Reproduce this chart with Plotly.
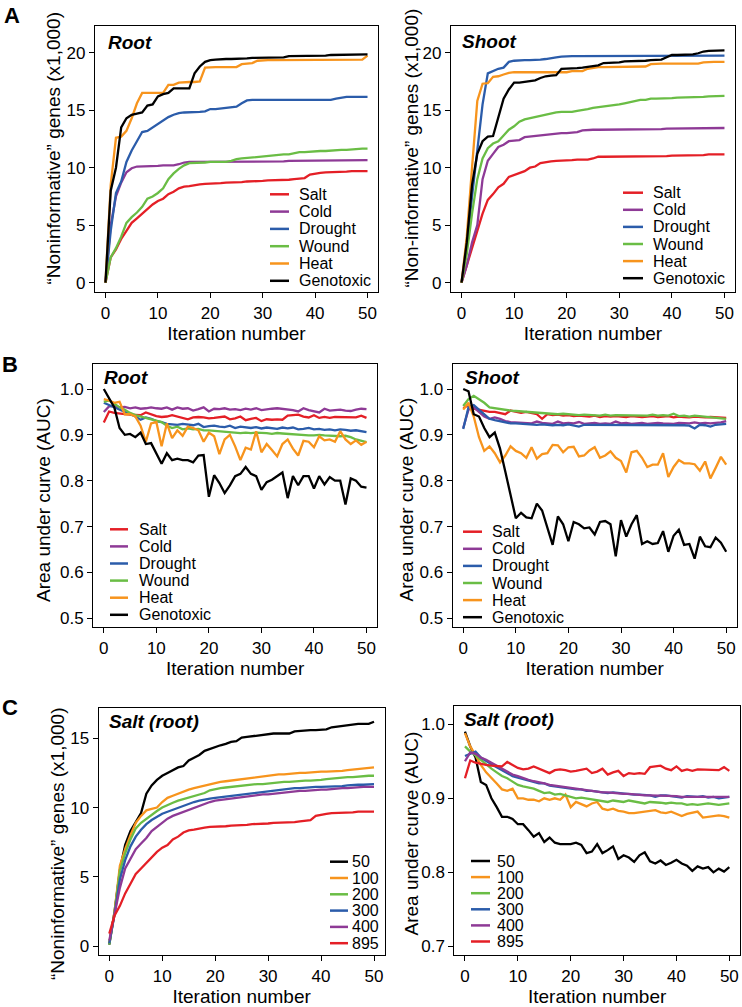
import plotly.graph_objects as go

W, H = 742, 1007
FONT = "Liberation Sans, Arial, Helvetica, sans-serif"

iterations = list(range(51))

stress_names = ["Salt", "Cold", "Drought", "Wound", "Heat", "Genotoxic"]
size_names = ["50", "100", "200", "300", "400", "895"]
stress_colors = ["#E41F26", "#8E3A96", "#2B5CAA", "#6ABD45", "#F7941D", "#000000"]
size_colors = ["#000000", "#F7941D", "#6ABD45", "#2B5CAA", "#8E3A96", "#E41F26"]

# ---------------- Panel A: root, non-informative genes (x1,000) ----------------
root_genes_salt = [0.0, 2.2, 2.9, 3.8, 4.5, 5.2, 5.6, 6.0, 6.4, 6.8,
                   7.1, 7.3, 7.7, 7.9, 8.2, 8.35, 8.4, 8.5, 8.55, 8.6,
                   8.6, 8.6, 8.65, 8.7, 8.7, 8.75, 8.75, 8.8, 8.8, 8.85,
                   8.85, 8.9, 8.9, 8.9, 8.95, 8.95, 9.0, 9.05, 9.1, 9.4,
                   9.5, 9.55, 9.6, 9.6, 9.65, 9.65, 9.65, 9.7, 9.7, 9.7,
                   9.7]
root_genes_cold = [0.0, 5.0, 7.5, 8.7, 9.6, 9.95, 10.1, 10.1, 10.15, 10.15,
                   10.15, 10.2, 10.2, 10.2, 10.3, 10.45, 10.5, 10.5, 10.5, 10.5,
                   10.5, 10.5, 10.5, 10.5, 10.5, 10.5, 10.5, 10.5, 10.5, 10.5,
                   10.5, 10.5, 10.55, 10.55, 10.55, 10.6, 10.6, 10.6, 10.6, 10.6,
                   10.6, 10.6, 10.6, 10.6, 10.6, 10.65, 10.65, 10.65, 10.65, 10.65,
                   10.65]
root_genes_drought = [0.0, 4.5, 7.8, 8.8, 10.5, 11.5, 12.3, 13.1, 13.2, 13.5,
                      13.8, 14.1, 14.4, 14.6, 14.75, 14.8, 14.8, 14.8, 14.85, 14.9,
                      15.1, 15.1, 15.15, 15.2, 15.25, 15.3, 15.6, 15.85, 15.9, 15.9,
                      15.9, 15.9, 15.9, 15.9, 15.9, 15.9, 15.9, 15.9, 15.9, 15.9,
                      15.9, 15.9, 15.9, 15.9, 16.0, 16.1, 16.15, 16.15, 16.15, 16.15,
                      16.15]
root_genes_wound = [0.0, 2.2, 3.0, 4.0, 5.2, 5.7, 6.1, 6.6, 7.3, 7.5,
                    7.8, 8.2, 9.0, 9.5, 9.9, 10.2, 10.4, 10.4, 10.45, 10.45,
                    10.5, 10.5, 10.5, 10.5, 10.6, 10.75, 10.8, 10.85, 10.85, 10.95,
                    11.0, 11.0, 11.05, 11.1, 11.15, 11.15, 11.25, 11.35, 11.35, 11.4,
                    11.4, 11.45, 11.45, 11.5, 11.55, 11.55, 11.55, 11.6, 11.6, 11.65,
                    11.65]
root_genes_heat = [0.0, 8.5, 12.6, 12.7, 13.2, 14.3, 15.6, 16.5, 16.5, 16.5,
                   16.5, 16.5, 17.2, 17.2, 17.4, 17.45, 17.45, 17.45, 17.5, 18.7,
                   18.75, 18.75, 18.75, 18.75, 18.75, 18.75, 19.0, 19.05, 19.1, 19.3,
                   19.35, 19.35, 19.35, 19.35, 19.35, 19.35, 19.35, 19.35, 19.35, 19.35,
                   19.35, 19.35, 19.35, 19.35, 19.35, 19.35, 19.35, 19.35, 19.35, 19.4,
                   19.75]
root_genes_genotoxic = [0.0, 8.0, 10.0, 13.5, 14.3, 14.6, 14.7, 14.8, 15.4, 15.5,
                        16.2, 16.4, 16.5, 16.9, 16.9, 16.9, 16.9, 18.2, 18.8, 19.2,
                        19.35, 19.4, 19.45, 19.45, 19.45, 19.45, 19.5, 19.5, 19.55, 19.55,
                        19.55, 19.55, 19.55, 19.55, 19.6, 19.7, 19.7, 19.7, 19.75, 19.75,
                        19.75, 19.75, 19.75, 19.8, 19.8, 19.8, 19.8, 19.8, 19.8, 19.85,
                        19.85]

# ---------------- Panel A: shoot ----------------
shoot_genes_salt = [0.0, 1.5, 3.0, 4.5, 6.0, 7.2, 7.7, 8.3, 8.6, 9.2,
                    9.35, 9.5, 9.7, 10.0, 10.1, 10.4, 10.5, 10.55, 10.6, 10.6,
                    10.65, 10.65, 10.7, 10.7, 10.7, 10.8, 10.95, 10.95, 10.95, 10.95,
                    10.95, 10.95, 10.95, 11.0, 11.0, 11.0, 11.0, 11.0, 11.0, 11.0,
                    11.05, 11.05, 11.05, 11.1, 11.1, 11.1, 11.1, 11.15, 11.15, 11.15,
                    11.15]
shoot_genes_cold = [0.0, 1.5, 3.5, 5.0, 9.0, 10.6, 11.2, 11.8, 12.0, 12.3,
                    12.35, 12.4, 12.65, 12.7, 12.75, 12.85, 12.9, 12.95, 13.0, 13.0,
                    13.0, 13.05, 13.1, 13.25, 13.3, 13.3, 13.3, 13.3, 13.3, 13.3,
                    13.3, 13.3, 13.3, 13.35, 13.35, 13.35, 13.35, 13.35, 13.35, 13.4,
                    13.4, 13.4, 13.4, 13.4, 13.4, 13.45, 13.45, 13.45, 13.45, 13.45,
                    13.45]
shoot_genes_drought = [0.0, 3.0, 7.5, 11.5, 15.5, 18.2, 18.4, 18.6, 18.7, 19.2,
                       19.3, 19.35, 19.35, 19.35, 19.35, 19.4, 19.45, 19.55, 19.6, 19.65,
                       19.7, 19.7, 19.7, 19.7, 19.7, 19.7, 19.7, 19.7, 19.7, 19.7,
                       19.7, 19.7, 19.7, 19.7, 19.7, 19.7, 19.7, 19.7, 19.7, 19.75,
                       19.75, 19.75, 19.75, 19.75, 19.75, 19.75, 19.75, 19.75, 19.75, 19.75,
                       19.75]
shoot_genes_wound = [0.0, 2.5, 6.0, 9.0, 10.8, 11.7, 12.1, 12.3, 12.8, 13.3,
                     13.6, 14.0, 14.2, 14.3, 14.4, 14.55, 14.65, 14.7, 14.8, 14.85,
                     14.85, 14.85, 14.95, 15.0, 15.1, 15.2, 15.25, 15.35, 15.4, 15.4,
                     15.5, 15.6, 15.7, 15.8, 15.9, 15.9, 16.0, 16.0, 16.0, 16.05,
                     16.05, 16.1, 16.1, 16.1, 16.15, 16.15, 16.15, 16.2, 16.2, 16.2,
                     16.25]
shoot_genes_heat = [0.0, 4.0, 10.0, 15.8, 17.3, 17.35, 17.9, 17.95, 18.1, 18.25,
                    18.3, 18.3, 18.3, 18.3, 18.3, 18.3, 18.3, 18.3, 18.3, 18.3,
                    18.3, 18.4, 18.4, 18.4, 18.6, 18.7, 18.75, 18.75, 18.75, 18.75,
                    18.75, 18.75, 18.75, 18.75, 18.75, 18.8, 19.0, 19.05, 19.05, 19.05,
                    19.05, 19.05, 19.05, 19.05, 19.05, 19.05, 19.15, 19.2, 19.2, 19.2,
                    19.2]
shoot_genes_genotoxic = [0.0, 3.5, 8.5, 11.2, 12.3, 12.7, 12.75, 14.5, 16.0, 16.8,
                         17.4, 17.4, 17.45, 17.5, 17.6, 17.8, 17.95, 18.0, 18.05, 18.6,
                         18.6, 18.65, 18.65, 18.7, 18.75, 18.85, 18.9, 19.1, 19.1, 19.1,
                         19.15, 19.25, 19.25, 19.3, 19.3, 19.3, 19.35, 19.35, 19.4, 19.6,
                         19.8, 19.8, 19.8, 19.85, 19.85, 19.95, 20.1, 20.15, 20.15, 20.2,
                         20.2]

# ---------------- Panel B: root AUC ----------------
root_auc_salt = [0.927, 0.951, 0.948, 0.946, 0.945, 0.944, 0.944, 0.943, 0.949, 0.945,
                 0.941, 0.939, 0.940, 0.943, 0.940, 0.938, 0.934, 0.938, 0.939, 0.938,
                 0.936, 0.937, 0.939, 0.940, 0.934, 0.936, 0.940, 0.932, 0.935, 0.937,
                 0.930, 0.934, 0.933, 0.934, 0.933, 0.942, 0.943, 0.944, 0.940, 0.938,
                 0.943, 0.937, 0.939, 0.937, 0.939, 0.939, 0.938, 0.938, 0.938, 0.942,
                 0.937]
root_auc_cold = [0.950, 0.962, 0.963, 0.960, 0.961, 0.958, 0.960, 0.957, 0.958, 0.960,
                 0.958, 0.957, 0.960, 0.955, 0.960, 0.957, 0.958, 0.953, 0.956, 0.960,
                 0.951, 0.957, 0.956, 0.958, 0.955, 0.956, 0.954, 0.957, 0.955, 0.958,
                 0.954, 0.956, 0.957, 0.958, 0.957, 0.955, 0.954, 0.951, 0.958, 0.954,
                 0.951, 0.949, 0.957, 0.953, 0.954, 0.955, 0.953, 0.952, 0.955, 0.957,
                 0.956]
root_auc_drought = [0.970, 0.965, 0.960, 0.955, 0.950, 0.945, 0.940, 0.933, 0.938, 0.935,
                    0.930, 0.928, 0.924, 0.923, 0.922, 0.924, 0.922, 0.921, 0.924, 0.917,
                    0.919, 0.920, 0.918, 0.917, 0.920, 0.915, 0.918, 0.916, 0.915, 0.917,
                    0.914, 0.916, 0.915, 0.913, 0.916, 0.914, 0.916, 0.912, 0.913, 0.915,
                    0.912, 0.913, 0.911, 0.912, 0.910, 0.912, 0.911, 0.909, 0.910, 0.908,
                    0.906]
root_auc_wound = [0.972, 0.975, 0.968, 0.960, 0.955, 0.948, 0.943, 0.940, 0.937, 0.934,
                  0.930, 0.928, 0.920, 0.915, 0.918, 0.912, 0.914, 0.912, 0.913, 0.910,
                  0.910, 0.909, 0.908, 0.907, 0.906, 0.905, 0.904, 0.905, 0.904, 0.905,
                  0.905, 0.904, 0.902, 0.904, 0.903, 0.902, 0.901, 0.901, 0.900, 0.899,
                  0.899, 0.900, 0.899, 0.898, 0.898, 0.897, 0.898, 0.895, 0.890, 0.887,
                  0.884]
root_auc_heat = [0.978, 0.975, 0.970, 0.972, 0.945, 0.945, 0.940, 0.920, 0.885, 0.925,
                 0.928, 0.875, 0.925, 0.893, 0.910, 0.898, 0.918, 0.915, 0.910, 0.885,
                 0.905, 0.897, 0.858, 0.890, 0.900, 0.875, 0.845, 0.872, 0.868, 0.908,
                 0.862, 0.880, 0.867, 0.853, 0.880, 0.890, 0.870, 0.855, 0.887, 0.885,
                 0.873, 0.897, 0.888, 0.890, 0.885, 0.908, 0.890, 0.880, 0.888, 0.878,
                 0.885]
root_auc_genotoxic = [1.000, 0.980, 0.960, 0.915, 0.900, 0.902, 0.895, 0.905, 0.880, 0.882,
                      0.860, 0.837, 0.860, 0.845, 0.848, 0.845, 0.845, 0.840, 0.855, 0.856,
                      0.765, 0.812, 0.795, 0.773, 0.790, 0.810, 0.815, 0.830, 0.815, 0.810,
                      0.780, 0.797, 0.802, 0.810, 0.818, 0.762, 0.810, 0.790, 0.810, 0.810,
                      0.783, 0.810, 0.792, 0.808, 0.800, 0.800, 0.748, 0.805, 0.800, 0.787,
                      0.785]

# ---------------- Panel B: shoot AUC ----------------
shoot_auc_salt = [0.958, 0.965, 0.957, 0.955, 0.952, 0.950, 0.950, 0.948, 0.945, 0.953,
                  0.950, 0.948, 0.950, 0.947, 0.945, 0.935, 0.945, 0.943, 0.944, 0.942,
                  0.943, 0.941, 0.942, 0.941, 0.940, 0.942, 0.939, 0.941, 0.940, 0.941,
                  0.940, 0.939, 0.941, 0.940, 0.939, 0.940, 0.941, 0.939, 0.940, 0.941,
                  0.938, 0.940, 0.939, 0.938, 0.940, 0.939, 0.938, 0.939, 0.938, 0.938,
                  0.937]
shoot_auc_cold = [0.915, 0.955, 0.960, 0.950, 0.940, 0.935, 0.938, 0.935, 0.930, 0.928,
                  0.927, 0.926, 0.925, 0.925, 0.929, 0.926, 0.925, 0.924, 0.929, 0.925,
                  0.926, 0.925, 0.928, 0.924, 0.925, 0.926, 0.924, 0.925, 0.924, 0.929,
                  0.925, 0.926, 0.924, 0.925, 0.926, 0.924, 0.925, 0.926, 0.925, 0.925,
                  0.924, 0.926, 0.925, 0.925, 0.927, 0.925, 0.926, 0.925, 0.926, 0.927,
                  0.930]
shoot_auc_drought = [0.913, 0.960, 0.965, 0.955, 0.945, 0.935, 0.932, 0.930, 0.928, 0.925,
                     0.925, 0.924, 0.924, 0.923, 0.922, 0.923, 0.922, 0.921, 0.922, 0.921,
                     0.923, 0.921, 0.918, 0.922, 0.922, 0.921, 0.921, 0.922, 0.921, 0.922,
                     0.921, 0.922, 0.921, 0.921, 0.922, 0.921, 0.922, 0.921, 0.922, 0.921,
                     0.921, 0.922, 0.921, 0.920, 0.914, 0.922, 0.921, 0.918, 0.922, 0.923,
                     0.924]
shoot_auc_wound = [0.963, 0.978, 0.985, 0.978, 0.970, 0.960, 0.958, 0.957, 0.955, 0.953,
                   0.952, 0.951, 0.950, 0.950, 0.949, 0.948, 0.947, 0.946, 0.945, 0.946,
                   0.945, 0.944, 0.943, 0.944, 0.943, 0.943, 0.942, 0.944, 0.942, 0.943,
                   0.943, 0.942, 0.943, 0.942, 0.943, 0.942, 0.944, 0.942, 0.943, 0.942,
                   0.946, 0.941, 0.942, 0.940, 0.942, 0.941, 0.940, 0.939, 0.938, 0.936,
                   0.935]
shoot_auc_heat = [0.955, 0.970, 0.940, 0.895, 0.865, 0.875, 0.860, 0.840, 0.855, 0.875,
                  0.865, 0.860, 0.850, 0.873, 0.848, 0.858, 0.860, 0.878, 0.877, 0.862,
                  0.873, 0.874, 0.853, 0.855, 0.866, 0.873, 0.850, 0.855, 0.864, 0.850,
                  0.843, 0.818, 0.862, 0.865, 0.850, 0.830, 0.835, 0.835, 0.860, 0.808,
                  0.830, 0.845, 0.838, 0.838, 0.836, 0.822, 0.842, 0.805, 0.828, 0.852,
                  0.835]
shoot_auc_genotoxic = [1.000, 0.995, 0.945, 0.940, 0.915, 0.895, 0.905, 0.870, 0.820, 0.765,
                       0.718, 0.730, 0.720, 0.718, 0.750, 0.735, 0.700, 0.660, 0.722, 0.705,
                       0.668, 0.710, 0.705, 0.696, 0.698, 0.683, 0.710, 0.712, 0.705, 0.635,
                       0.714, 0.678, 0.705, 0.725, 0.662, 0.668, 0.662, 0.664, 0.690, 0.645,
                       0.680, 0.693, 0.660, 0.662, 0.630, 0.678, 0.657, 0.655, 0.676, 0.665,
                       0.645]

# ---------------- Panel C: salt (root), genes by sample size ----------------
salt_genes_50 = [0.1, 2.5, 5.5, 7.3, 8.3, 9.0, 9.6, 11.0, 11.6, 12.0,
                 12.3, 12.5, 12.7, 12.9, 13.0, 13.4, 13.6, 13.8, 14.1, 14.25,
                 14.35, 14.5, 14.6, 14.75, 14.8, 15.05, 15.1, 15.15, 15.2, 15.3,
                 15.3, 15.35, 15.35, 15.35, 15.35, 15.5, 15.55, 15.6, 15.6, 15.6,
                 15.6, 15.65, 15.8, 15.85, 15.9, 15.95, 16.05, 16.05, 16.05, 16.05,
                 16.2]
salt_genes_100 = [0.2, 2.5, 5.8, 7.0, 8.0, 8.9, 9.4, 9.8, 9.9, 10.0,
                  10.4, 10.7, 10.85, 11.0, 11.2, 11.3, 11.4, 11.5, 11.6, 11.65,
                  11.75, 11.85, 11.9, 11.95, 12.0, 12.05, 12.15, 12.2, 12.25, 12.3,
                  12.35, 12.35, 12.4, 12.4, 12.45, 12.5, 12.5, 12.5, 12.55, 12.55,
                  12.6, 12.6, 12.6, 12.65, 12.65, 12.7, 12.75, 12.8, 12.85, 12.85,
                  12.9]
salt_genes_200 = [0.1, 2.4, 5.4, 6.7, 7.7, 8.5, 8.9, 9.2, 9.5, 9.75,
                  10.0, 10.2, 10.35, 10.5, 10.6, 10.75, 10.85, 10.95, 11.05, 11.25,
                  11.35, 11.4, 11.45, 11.5, 11.55, 11.6, 11.65, 11.65, 11.7, 11.7,
                  11.75, 11.8, 11.8, 11.85, 11.85, 11.9, 11.9, 11.95, 11.95, 11.95,
                  12.0, 12.05, 12.1, 12.15, 12.15, 12.2, 12.2, 12.25, 12.25, 12.3,
                  12.3]
salt_genes_300 = [0.2, 2.3, 4.8, 6.2, 7.2, 7.9, 8.4, 8.8, 9.1, 9.35,
                  9.55, 9.7, 9.85, 10.0, 10.15, 10.3, 10.4, 10.5, 10.6, 10.65,
                  10.7, 10.75, 10.8, 10.85, 10.9, 10.95, 11.0, 11.05, 11.1, 11.15,
                  11.2, 11.25, 11.3, 11.35, 11.4, 11.4, 11.4, 11.45, 11.45, 11.5,
                  11.5, 11.5, 11.5, 11.55, 11.55, 11.6, 11.65, 11.65, 11.65, 11.7,
                  11.7]
salt_genes_400 = [0.4, 2.2, 4.2, 5.6, 6.3, 7.0, 7.4, 7.8, 8.3, 8.6,
                  8.9, 9.2, 9.4, 9.55, 9.7, 9.85, 10.0, 10.15, 10.3, 10.4,
                  10.5, 10.55, 10.6, 10.7, 10.75, 10.8, 10.85, 10.85, 10.9, 10.95,
                  10.95, 11.0, 11.05, 11.1, 11.1, 11.15, 11.2, 11.2, 11.25, 11.25,
                  11.3, 11.3, 11.35, 11.35, 11.4, 11.4, 11.45, 11.45, 11.5, 11.5,
                  11.5]
salt_genes_895 = [0.9, 2.2, 2.9, 3.8, 4.5, 5.2, 5.6, 6.0, 6.4, 6.8,
                  7.1, 7.3, 7.7, 7.9, 8.2, 8.35, 8.4, 8.5, 8.55, 8.6,
                  8.6, 8.6, 8.65, 8.7, 8.7, 8.75, 8.75, 8.8, 8.8, 8.85,
                  8.85, 8.9, 8.9, 8.9, 8.95, 8.95, 9.0, 9.05, 9.1, 9.4,
                  9.5, 9.55, 9.6, 9.6, 9.65, 9.65, 9.65, 9.7, 9.7, 9.7,
                  9.7]

# ---------------- Panel C: salt (root), AUC by sample size ----------------
salt_auc_50 = [0.990, 0.970, 0.955, 0.922, 0.918, 0.900, 0.888, 0.875, 0.875, 0.872,
               0.865, 0.865, 0.857, 0.848, 0.853, 0.841, 0.847, 0.840, 0.838, 0.838,
               0.838, 0.840, 0.837, 0.826, 0.828, 0.838, 0.826, 0.830, 0.835, 0.818,
               0.823, 0.820, 0.814, 0.823, 0.827, 0.815, 0.812, 0.816, 0.810, 0.813,
               0.817, 0.812, 0.809, 0.802, 0.808, 0.805, 0.807, 0.800, 0.805, 0.801,
               0.807]
salt_auc_100 = [0.988, 0.970, 0.958, 0.945, 0.935, 0.928, 0.920, 0.912, 0.910, 0.913,
                0.900, 0.900, 0.898, 0.898, 0.896, 0.900, 0.898, 0.900, 0.898, 0.905,
                0.888, 0.895, 0.892, 0.889, 0.893, 0.895, 0.886, 0.884, 0.886, 0.883,
                0.882, 0.880, 0.880, 0.881, 0.881, 0.882, 0.884, 0.881, 0.880, 0.882,
                0.879, 0.876, 0.879, 0.881, 0.882, 0.874, 0.875, 0.876, 0.877, 0.876,
                0.874]
salt_auc_200 = [0.970, 0.963, 0.958, 0.952, 0.945, 0.940, 0.935, 0.930, 0.927, 0.922,
                0.918, 0.916, 0.915, 0.913, 0.910, 0.907, 0.908, 0.905, 0.906, 0.904,
                0.902, 0.900, 0.901, 0.900, 0.899, 0.898, 0.897, 0.895, 0.897, 0.896,
                0.895, 0.897, 0.896, 0.895, 0.893, 0.895, 0.895, 0.894, 0.893, 0.894,
                0.893, 0.893, 0.891, 0.892, 0.891, 0.892, 0.893, 0.892, 0.891, 0.892,
                0.893]
salt_auc_300 = [0.957, 0.960, 0.963, 0.955, 0.950, 0.946, 0.942, 0.938, 0.934, 0.930,
                0.928, 0.926, 0.925, 0.922, 0.920, 0.920, 0.917, 0.916, 0.915, 0.913,
                0.913, 0.912, 0.912, 0.910, 0.910, 0.909, 0.908, 0.907, 0.908, 0.907,
                0.906, 0.906, 0.905, 0.905, 0.905, 0.904, 0.902, 0.904, 0.904, 0.903,
                0.903, 0.901, 0.903, 0.902, 0.902, 0.903, 0.901, 0.902, 0.900, 0.901,
                0.902]
salt_auc_400 = [0.950, 0.962, 0.960, 0.955, 0.952, 0.948, 0.944, 0.940, 0.935, 0.932,
                0.930, 0.927, 0.925, 0.923, 0.922, 0.920, 0.918, 0.917, 0.916, 0.914,
                0.913, 0.912, 0.911, 0.910, 0.910, 0.909, 0.908, 0.908, 0.907, 0.907,
                0.906, 0.906, 0.905, 0.905, 0.904, 0.904, 0.904, 0.903, 0.903, 0.903,
                0.903, 0.902, 0.902, 0.902, 0.902, 0.902, 0.902, 0.901, 0.902, 0.902,
                0.902]
salt_auc_895 = [0.927, 0.951, 0.948, 0.946, 0.945, 0.944, 0.944, 0.943, 0.949, 0.945,
                0.941, 0.939, 0.940, 0.943, 0.940, 0.938, 0.934, 0.938, 0.939, 0.938,
                0.936, 0.937, 0.939, 0.940, 0.934, 0.936, 0.940, 0.932, 0.935, 0.937,
                0.930, 0.934, 0.933, 0.934, 0.933, 0.942, 0.943, 0.944, 0.940, 0.938,
                0.943, 0.937, 0.939, 0.937, 0.939, 0.939, 0.938, 0.938, 0.938, 0.942,
                0.937]

x_ticks = [0, 10, 20, 30, 40, 50]
genes_ticks = [0, 5, 10, 15, 20]
auc_ticks_b = [0.5, 0.6, 0.7, 0.8, 0.9, 1.0]
genes_ticks_c = [0, 5, 10, 15]
auc_ticks_c = [0.7, 0.8, 0.9, 1.0]


def px_x(p):
    return p / W


def px_y(p):
    return 1 - p / H


panels = [
    dict(series=[root_genes_salt, root_genes_cold, root_genes_drought, root_genes_wound,
                 root_genes_heat, root_genes_genotoxic],
         names=stress_names, colors=stress_colors, box=[95, 26, 378, 292],
         yrange=[-0.81, 22.32], yticks=genes_ticks, fmt="d",
         ytitle="“Noninformative” genes (x1,000)", ytpos=(53, 148.5), xstand=2,
         title="Root", tpos=(106, 42), leg=(270, 289, 297, 194.3, 17.3)),
    dict(series=[shoot_genes_salt, shoot_genes_cold, shoot_genes_drought, shoot_genes_wound,
                 shoot_genes_heat, shoot_genes_genotoxic],
         names=stress_names, colors=stress_colors, box=[451, 26, 735, 292],
         yrange=[-0.81, 22.32], yticks=genes_ticks, fmt="d",
         ytitle="“Non-informative” genes (x1,000)", ytpos=(411, 148.5), xstand=2,
         title="Shoot", tpos=(460, 41), leg=(623, 643, 651, 192.7, 17.1)),
    dict(series=[root_auc_salt, root_auc_cold, root_auc_drought, root_auc_wound,
                 root_auc_heat, root_auc_genotoxic],
         names=stress_names, colors=stress_colors, box=[93.3, 364.3, 377, 627.3],
         yrange=[0.4803, 1.0539], yticks=auc_ticks_b, fmt=".1f",
         ytitle="Area under curve (AUC)", ytpos=(44, 500), xstand=0,
         title="Root", tpos=(102, 377), leg=(110, 128, 137, 529.3, 17.1)),
    dict(series=[shoot_auc_salt, shoot_auc_cold, shoot_auc_drought, shoot_auc_wound,
                 shoot_auc_heat, shoot_auc_genotoxic],
         names=stress_names, colors=stress_colors, box=[452.7, 364.3, 736.7, 627.3],
         yrange=[0.4803, 1.0539], yticks=auc_ticks_b, fmt=".1f",
         ytitle="Area under curve (AUC)", ytpos=(406, 499.5), xstand=0,
         title="Shoot", tpos=(463, 377), leg=(463, 482, 490, 531.7, 17.1)),
    dict(series=[salt_genes_50, salt_genes_100, salt_genes_200, salt_genes_300,
                 salt_genes_400, salt_genes_895],
         names=size_names, colors=size_colors, box=[98.7, 708.3, 384.6, 955.3],
         yrange=[-0.67, 17.17], yticks=genes_ticks_c, fmt="d",
         ytitle="“Noninformative” genes (x1,000)", ytpos=(57, 844), xstand=5,
         title="Salt (root)", tpos=(107, 721), leg=(330, 348, 350, 861.7, 16.3)),
    dict(series=[salt_auc_50, salt_auc_100, salt_auc_200, salt_auc_300,
                 salt_auc_400, salt_auc_895],
         names=size_names, colors=size_colors, box=[454.4, 705.7, 739.9, 955.3],
         yrange=[0.688, 1.025], yticks=auc_ticks_c, fmt=".1f",
         ytitle="Area under curve (AUC)", ytpos=(411, 833.5), xstand=5,
         title="Salt (root)", tpos=(462, 719), leg=(471, 490, 495, 861, 16.1)),
]

fig = go.Figure()
shapes = []
annotations = []
axis_common = dict(
    showline=True, mirror=True, linecolor="black", linewidth=1.3,
    ticks="outside", ticklen=5, tickwidth=1.3, tickcolor="black",
    showgrid=False, zeroline=False, automargin=False,
    tickfont=dict(family=FONT, size=17, color="black"),
    title_font=dict(family=FONT, size=19, color="black"),
)

for i, p in enumerate(panels):
    n = "" if i == 0 else str(i + 1)
    xa, ya = "x" + n, "y" + n
    l, t, r, b = p["box"]
    for vals, name, col in zip(p["series"], p["names"], p["colors"]):
        fig.add_trace(go.Scatter(x=iterations, y=vals, mode="lines", name=name,
                                 line=dict(color=col, width=2.3), xaxis=xa, yaxis=ya,
                                 showlegend=False))
    fig.update_layout({
        "xaxis" + n: dict(axis_common, domain=[px_x(l), px_x(r)], range=[-2, 52],
                          tickvals=x_ticks, anchor=ya,
                          title=dict(text="Iteration number", standoff=p["xstand"])),
        "yaxis" + n: dict(axis_common, domain=[px_y(b), px_y(t)], range=p["yrange"],
                          tickvals=p["yticks"], tickformat=p["fmt"], anchor=xa),
    })
    annotations.append(dict(text=p["ytitle"], xref="paper", yref="paper",
                            x=px_x(p["ytpos"][0]), y=px_y(p["ytpos"][1]), textangle=-90,
                            xanchor="center", yanchor="middle", showarrow=False,
                            font=dict(family=FONT, size=19, color="black")))
    annotations.append(dict(text="<b><i>%s</i></b>" % p["title"], xref="paper", yref="paper",
                            x=px_x(p["tpos"][0]), y=px_y(p["tpos"][1]), xanchor="left",
                            yanchor="middle", showarrow=False,
                            font=dict(family=FONT, size=19, color="black")))
    kx0, kx1, tx, y0, step = p["leg"]
    for j, (name, col) in enumerate(zip(p["names"], p["colors"])):
        yy = y0 + j * step
        shapes.append(dict(type="line", xref="paper", yref="paper",
                           x0=px_x(kx0), x1=px_x(kx1), y0=px_y(yy), y1=px_y(yy),
                           line=dict(color=col, width=2.5)))
        annotations.append(dict(text=name, xref="paper", yref="paper",
                                x=px_x(tx), y=px_y(yy), xanchor="left", yanchor="middle",
                                showarrow=False,
                                font=dict(family=FONT, size=16, color="black")))

for letter, (lx, ly) in zip(["A", "B", "C"], [(12.5, 16), (10, 365), (10, 707)]):
    annotations.append(dict(text="<b>%s</b>" % letter, xref="paper", yref="paper",
                            x=px_x(lx), y=px_y(ly), xanchor="center", yanchor="middle",
                            showarrow=False, font=dict(family=FONT, size=22, color="black")))

fig.update_layout(width=W, height=H, margin=dict(l=0, r=0, t=0, b=0),
                  paper_bgcolor="white", plot_bgcolor="white",
                  shapes=shapes, annotations=annotations, showlegend=False)

fig.write_html("out.html", config={"displayModeBar": False},
               post_script="document.body.style.margin='0';document.body.style.padding='0';")
